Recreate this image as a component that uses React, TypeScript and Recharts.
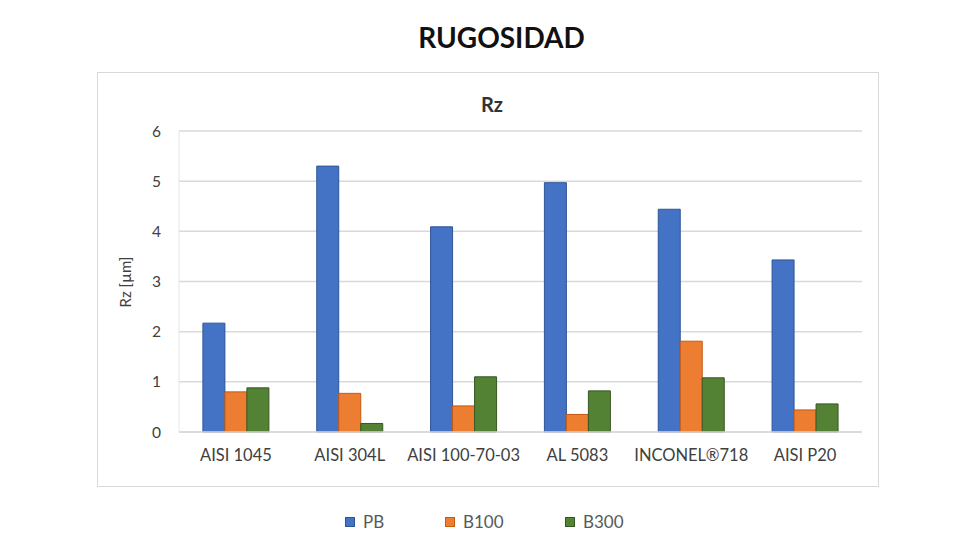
import React from "react";
import { BarChart, Bar, XAxis, YAxis, CartesianGrid, Legend } from "recharts";

const categories = ["AISI 1045", "AISI 304L", "AISI 100-70-03", "AL 5083", "INCONEL®718", "AISI P20"];
const pb = [2.17, 5.3, 4.09, 4.97, 4.44, 3.43];
const b100 = [0.8, 0.77, 0.52, 0.35, 1.81, 0.44];
const b300 = [0.88, 0.17, 1.1, 0.82, 1.08, 0.56];
const yTicks = [0, 1, 2, 3, 4, 5, 6];

const seriesNames = ["PB", "B100", "B300"];
const seriesColors = ["#4472C4", "#ED7D31", "#548235"];
const seriesStrokes = ["#2F5597", "#C55A11", "#385723"];

const data = categories.map((c, i) => ({ name: c, PB: pb[i], B100: b100[i], B300: b300[i] }));

const FONT = "Lato, 'Open Sans', sans-serif";

const LegendContent = () => (
  <div style={{ position: "absolute", left: 0, top: 0, width: 980, height: 22, fontFamily: FONT, fontSize: 17, color: "#595959" }}>
    {seriesNames.map((n, i) => (
      <div key={n} style={{ position: "absolute", left: [345, 445, 565][i], top: 0, display: "flex", alignItems: "center" }}>
        <span style={{ display: "inline-block", width: 10, height: 10, background: seriesColors[i], border: `1px solid ${seriesStrokes[i]}`, boxSizing: "border-box", marginRight: 8 }} />
        <span>{n}</span>
      </div>
    ))}
  </div>
);

export default function App() {
  return (
    <div style={{ position: "absolute", left: 0, top: 0, width: 980, height: 560, background: "#fff", fontFamily: FONT }}>
      <div style={{ position: "absolute", left: 97, top: 72, width: 782, height: 415, border: "1px solid #d9d9d9", boxSizing: "border-box" }} />
      <div style={{ position: "absolute", left: 0, top: 20, width: 1003, textAlign: "center", fontSize: 28, fontWeight: 700, color: "#111" }}>RUGOSIDAD</div>
      <div style={{ position: "absolute", left: 0, top: 92, width: 984, textAlign: "center", fontSize: 20, fontWeight: 700, color: "#333" }}>Rz</div>
      <div style={{ position: "absolute", left: 125, top: 282, transform: "translate(-50%, -50%) rotate(-90deg)", fontSize: 15, color: "#404040", whiteSpace: "nowrap" }}>Rz [µm]</div>
      <div style={{ position: "absolute", left: 0, top: 0 }}>
        <BarChart width={980} height={560} data={data} margin={{ top: 131, right: 118, bottom: 98, left: 139 }} barGap={0} barCategoryGap="21%">
          <CartesianGrid vertical={false} stroke="#d9d9d9" strokeWidth={1.5} />
          <XAxis dataKey="name" height={30} tickSize={0} tickMargin={17} axisLine={{ stroke: "#d9d9d9", strokeWidth: 1.5 }} tick={{ fill: "#404040", fontSize: 16.5, fontFamily: FONT }} interval={0} />
          <YAxis width={40} domain={[0, 6]} ticks={yTicks} tickSize={0} tickMargin={18} axisLine={{ stroke: "#e6e6e6" }} tick={{ fill: "#404040", fontSize: 15.5, fontFamily: FONT }} />
          <Legend content={<LegendContent />} wrapperStyle={{ position: "absolute", left: 0, top: 511, width: 980 }} />
          {seriesNames.map((n, i) => (
            <Bar key={n} dataKey={n} fill={seriesColors[i]} stroke={seriesStrokes[i]} strokeWidth={1} isAnimationActive={false} />
          ))}
        </BarChart>
      </div>
    </div>
  );
}
